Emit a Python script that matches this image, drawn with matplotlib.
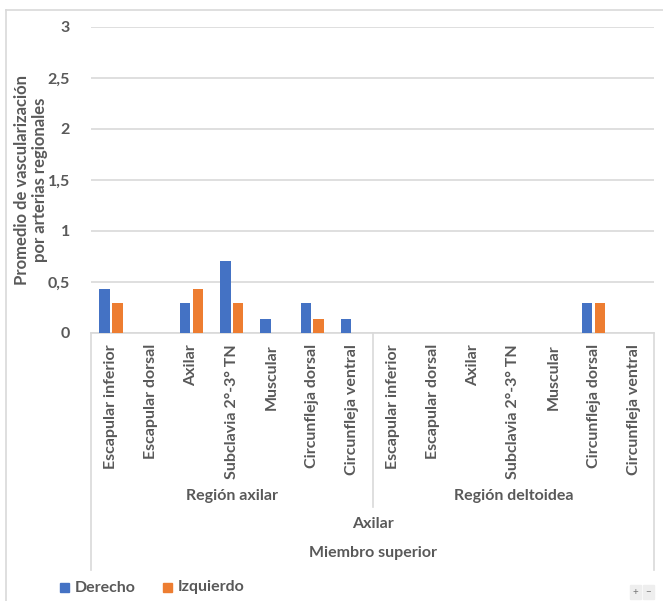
import matplotlib
matplotlib.use("Agg")
import matplotlib.pyplot as plt
from matplotlib.patches import Rectangle
from matplotlib.lines import Line2D
import matplotlib.transforms as mtransforms
import numpy as np

# data
arterias = ["Escapular inferior", "Escapular dorsal", "Axilar", "Subclavia 2°-3° TN",
            "Muscular", "Circunfleja dorsal", "Circunfleja ventral"]
regiones = ["Región axilar", "Región deltoidea"]
derecho = [0.43, 0, 0.29, 0.71, 0.14, 0.29, 0.14,
           0, 0, 0, 0, 0, 0.29, 0]
izquierdo = [0.29, 0, 0.43, 0.29, 0, 0.14, 0,
             0, 0, 0, 0, 0, 0.29, 0]
nivel3 = "Axilar"
nivel4 = "Miembro superior"
ylabel = "Promedio de vascularización\npor arterias regionales"
yticks = [0, 0.5, 1, 1.5, 2, 2.5, 3]

azul = "#4472C4"
naranja = "#ED7D31"
gris_txt = "#595959"
gris_lin = "#d9d9d9"
plt.rcParams["font.family"] = ["Lato", "DejaVu Sans"]
plt.rcParams["font.weight"] = "bold"

W, H = 663, 601
fig = plt.figure(figsize=(W / 100, H / 100), dpi=100)
ax = fig.add_axes([91 / W, (H - 333) / H, (654 - 91) / W, (333 - 27) / H])

labels = arterias * len(regiones)
x = np.arange(len(labels))
bw = 0.26
ax.bar(x - 0.16, derecho, bw, color=azul, label="Derecho", zorder=3)
ax.bar(x + 0.16, izquierdo, bw, color=naranja, label="Izquierdo", zorder=3)

ax.set_xlim(-0.5, len(labels) - 0.5)
ax.set_ylim(0, 3)
ax.set_yticks(yticks)
ax.set_yticklabels([("%g" % t).replace(".", ",") for t in yticks],
                   fontsize=11.5, color=gris_txt)
ax.tick_params(axis="y", length=0, pad=15)
ax.set_xticks([])
ax.grid(axis="y", color=gris_lin, lw=1.2, zorder=0)
for s in ["top", "right", "left"]:
    ax.spines[s].set_visible(False)
ax.spines["bottom"].set_color(gris_lin)
ax.spines["bottom"].set_linewidth(1.2)

fig.text(31 / W, (H - 180) / H, ylabel, rotation=90, ha="center", va="center",
         fontsize=12, color=gris_txt, linespacing=1.15)

# multi-level category axis
tr = mtransforms.blended_transform_factory(ax.transData, ax.transAxes)


def ay(py):
    return (333 - py) / 306


for xi, lab in zip(x, labels):
    ax.text(xi, ay(344), lab, rotation=90, ha="center", va="top", transform=tr,
            fontsize=11.5, color=gris_txt, clip_on=False)

n = len(arterias)
for i, reg in enumerate(regiones):
    ax.text(i * n + (n - 1) / 2, ay(496), reg, ha="center", va="center", transform=tr,
            fontsize=11.5, color=gris_txt, clip_on=False)
ax.text((len(labels) - 1) / 2, ay(524), nivel3, ha="center", va="center", transform=tr,
        fontsize=11.5, color=gris_txt, clip_on=False)
ax.text((len(labels) - 1) / 2, ay(553), nivel4, ha="center", va="center", transform=tr,
        fontsize=11.5, color=gris_txt, clip_on=False)

ax.add_line(Line2D([-0.5, -0.5], [0, ay(570)], transform=tr, color=gris_lin, lw=1.2, clip_on=False))
ax.add_line(Line2D([len(labels) - 0.5] * 2, [0, ay(570)], transform=tr, color=gris_lin, lw=1.2, clip_on=False))
ax.add_line(Line2D([n - 0.5] * 2, [0, ay(507)], transform=tr, color=gris_lin, lw=1.2, clip_on=False))

# legend
fig.patches.append(Rectangle((60 / W, (H - 592) / H), 9 / W, 9 / H, color=azul, transform=fig.transFigure))
fig.text(75 / W, (H - 587.5) / H, "Derecho", va="center", fontsize=11.5, color=gris_txt)
fig.patches.append(Rectangle((163 / W, (H - 592) / H), 9 / W, 9 / H, color=naranja, transform=fig.transFigure))
fig.text(178 / W, (H - 587.5) / H, "Izquierdo", va="center", fontsize=11.5, color=gris_txt)

# chart frame
fig.add_artist(Line2D([6 / W, 6 / W], [0, (H - 10) / H], transform=fig.transFigure, color=gris_lin, lw=1.2))
fig.add_artist(Line2D([6 / W, 1], [(H - 10) / H] * 2, transform=fig.transFigure, color=gris_lin, lw=1.2))

# zoom buttons
for bx, sym in [(630, "+"), (643, "−")]:
    fig.patches.append(Rectangle((bx / W, (H - 599) / H), 11 / W, 14 / H, color="#eeeeee", transform=fig.transFigure))
    fig.text((bx + 5.5) / W, (H - 592) / H, sym, ha="center", va="center", fontsize=7,
             fontweight="normal", color="#777777")

fig.savefig("out.png", dpi=100)
